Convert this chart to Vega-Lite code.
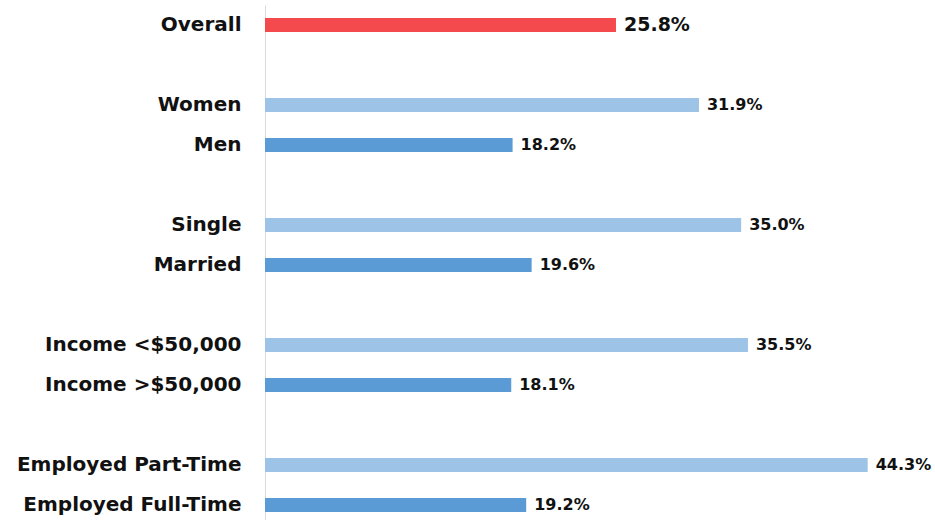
{
  "$schema": "https://vega.github.io/schema/vega-lite/v6.json",
  "width": 653,
  "height": 520,
  "autosize": {"type": "none"},
  "padding": {"left": 265, "top": 5, "right": 17, "bottom": 0},
  "background": "white",
  "config": {"view": {"stroke": null}, "font": "DejaVu Sans"},
  "data": {"values": [
    {"category": "Overall", "kind": "total", "value": 0.258},
    {"category": "Women", "kind": "first", "value": 0.319},
    {"category": "Men", "kind": "second", "value": 0.182},
    {"category": "Single", "kind": "first", "value": 0.350},
    {"category": "Married", "kind": "second", "value": 0.196},
    {"category": "Income <$50,000", "kind": "first", "value": 0.355},
    {"category": "Income >$50,000", "kind": "second", "value": 0.181},
    {"category": "Employed Part-Time", "kind": "first", "value": 0.443},
    {"category": "Employed Full-Time", "kind": "second", "value": 0.192}
  ]},
  "encoding": {
    "y": {
      "field": "category", "type": "nominal",
      "scale": {
        "domain": ["Overall", "gap1", "Women", "Men", "gap2", "Single", "Married", "gap3", "Income <$50,000", "Income >$50,000", "gap4", "Employed Part-Time", "Employed Full-Time"],
        "paddingInner": 0.65, "paddingOuter": 0.325
      },
      "axis": {
        "title": null, "ticks": false, "domainColor": "#d9d9d9", "domainWidth": 1,
        "labelExpr": "indexof(datum.value, 'gap') == 0 ? '' : datum.value",
        "labelFont": "DejaVu Sans", "labelFontWeight": "bold", "labelFontSize": 20,
        "labelColor": "#111111", "labelPadding": 24, "labelLimit": 400
      }
    },
    "x": {
      "field": "value", "type": "quantitative",
      "scale": {"domain": [0, 0.48]},
      "axis": null
    }
  },
  "layer": [
    {
      "mark": {"type": "bar"},
      "encoding": {
        "color": {
          "field": "kind", "type": "nominal", "legend": null,
          "scale": {"domain": ["total", "first", "second"], "range": ["#F44A4D", "#9DC3E6", "#5B9BD5"]}
        }
      }
    },
    {
      "mark": {"type": "text", "align": "left", "baseline": "middle", "dx": 8, "font": "DejaVu Sans", "fontWeight": "bold", "color": "#111111"},
      "encoding": {
        "text": {"field": "value", "type": "quantitative", "format": ".1%"},
        "size": {"condition": {"test": "datum.kind === 'total'", "value": 19}, "value": 16}
      }
    }
  ]
}
